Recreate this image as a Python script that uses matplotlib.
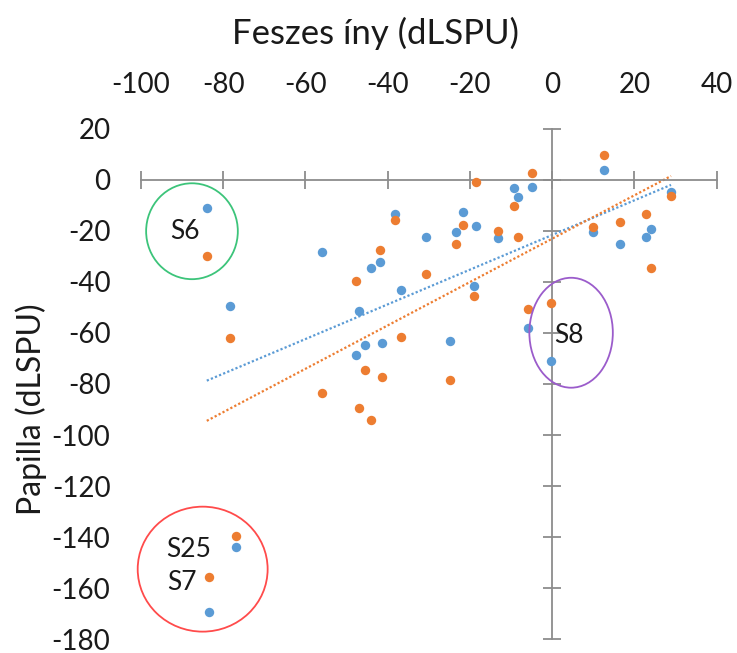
import matplotlib
matplotlib.use("Agg")
import matplotlib.pyplot as plt
from matplotlib.patches import Ellipse
import numpy as np

plt.rcParams['font.family'] = ['Lato', 'DejaVu Sans']
plt.rcParams['axes.unicode_minus'] = False

# Data: x = Feszes íny (dLSPU); y = Papilla (dLSPU)
x_vals = [-84.0, -83.5, -77.0, -78.3, -56.1, -47.8, -46.9, -45.4, -44.0, -41.8,
          -41.4, -38.2, -36.8, -30.8, -24.8, -23.4, -21.7, -19.0, -18.5, -13.1,
          -9.2, -8.4, -5.8, -5.0, -0.4, 10.0, 12.6, 16.4, 22.9, 24.0, 28.9]
blue_y = [-11.0, -169.3, -144.1, -49.4, -28.1, -68.6, -51.4, -64.7, -34.6, -32.0,
          -64.1, -13.5, -43.1, -22.2, -63.0, -20.5, -12.4, -41.4, -17.9, -22.9,
          -3.3, -6.7, -58.2, -2.7, -70.9, -20.5, 4.0, -25.0, -22.2, -19.1, -4.8]
orange_y = [-29.8, -155.8, -139.7, -61.8, -83.4, -39.5, -89.5, -74.5, -94.2, -27.6,
            -77.1, -15.8, -61.4, -36.9, -78.4, -25.1, -17.5, -45.5, -0.9, -19.9,
            -10.1, -22.5, -50.6, 2.9, -48.4, -18.3, 9.7, -16.6, -13.5, -34.4, -6.3]

x_ticks = [-100, -80, -60, -40, -20, 0, 20, 40]
y_ticks = [20, 0, -20, -40, -60, -80, -100, -120, -140, -160, -180]

labels = ["S6", "S25", "S7", "S8"]
label_pos = [(-89.4, -20.4), (-88.4, -145.0), (-90.0, -158.0), (0.6, -61.0)]

BLUE = "#5B9BD5"
ORANGE = "#ED7D31"
GRAY = "#8C8C8C"

fig = plt.figure(figsize=(7.37, 6.53), dpi=100)
ax = fig.add_axes([0.1913, 0.0214, 0.7811, 0.7811])
ax.set_xlim(-100, 40)
ax.set_ylim(-180, 20)

for s in ("top", "right"):
    ax.spines[s].set_visible(False)
ax.spines["left"].set_position(("data", 0))
ax.spines["bottom"].set_position(("data", 0))
for s in ("left", "bottom"):
    ax.spines[s].set_color(GRAY)
    ax.spines[s].set_linewidth(1.3)
ax.set_xticks(x_ticks)
ax.set_yticks(y_ticks)
ax.tick_params(direction="inout", length=13, width=1.3, color=GRAY,
               labelbottom=False, labelleft=False)

secx = ax.secondary_xaxis("top")
secx.set_xticks(x_ticks)
secx.spines["top"].set_visible(False)
secx.tick_params(length=0, pad=22, labelsize=20, labelcolor="#1a1a1a")

secy = ax.secondary_yaxis("left")
secy.set_yticks(y_ticks)
secy.spines["left"].set_visible(False)
secy.tick_params(length=0, pad=22, labelsize=20, labelcolor="#1a1a1a")

xa = np.array(x_vals)
xs = np.array([xa.min(), xa.max()])
for yv, col in ((blue_y, BLUE), (orange_y, ORANGE)):
    k, b = np.polyfit(xa, np.array(yv), 1)
    ax.plot(xs, k * xs + b, linestyle=(0, (1, 1)), color=col, lw=1.6, zorder=2)

ax.scatter(x_vals, blue_y, s=46, color=BLUE, zorder=3, linewidths=0)
ax.scatter(x_vals, orange_y, s=46, color=ORANGE, zorder=3, linewidths=0)

ax.add_patch(Ellipse((-87.6, -20.1), 22.3, 37.6, fill=False, ec="#3CC47A", lw=1.3,
                     zorder=4, clip_on=False))
ax.add_patch(Ellipse((4.6, -59.9), 20.3, 43.1, fill=False, ec="#9B5CCB", lw=1.3,
                     zorder=4, clip_on=False))
ax.add_patch(Ellipse((-85.0, -152.6), 31.6, 49.0, fill=False, ec="#FF4B4B", lw=1.3,
                     zorder=4, clip_on=False))

for t, (px, py) in zip(labels, label_pos):
    ha = "left" if t == "S8" else "center"
    ax.text(px, py, t, fontsize=19, ha=ha, va="center", color="#1a1a1a", zorder=5)

fig.text(0.509, 1 - 33 / 653, "Feszes íny (dLSPU)", fontsize=25, ha="center",
         va="center", color="#1a1a1a")
fig.text(0.042, 1 - 409 / 653, "Papilla (dLSPU)", fontsize=23, ha="center",
         va="center", rotation=90, color="#1a1a1a")

fig.savefig("out.png", dpi=100)
